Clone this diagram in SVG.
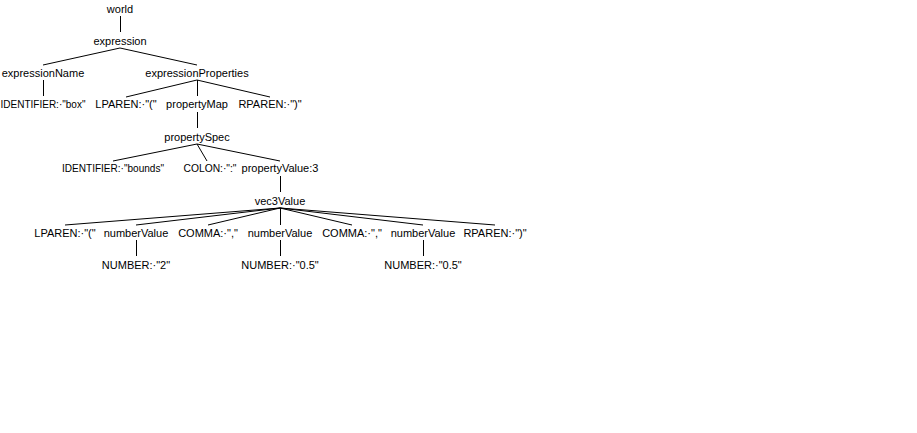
<svg xmlns="http://www.w3.org/2000/svg" width="917" height="433" viewBox="0 0 917 433">
<style>
text{font-family:"Liberation Sans",Arial,sans-serif;font-size:11px;fill:#000;text-anchor:middle}
line{stroke:#000;stroke-width:1}
</style>
<rect width="917" height="433" fill="#fff"/>
<g id="connectors">
<line x1="120.5" y1="16" x2="120.5" y2="32"/>
<line x1="120" y1="48" x2="43" y2="65"/>
<line x1="120" y1="48" x2="197" y2="65"/>
<line x1="43.5" y1="80" x2="43.5" y2="96"/>
<line x1="197" y1="80" x2="126" y2="97"/>
<line x1="197.5" y1="80" x2="197.5" y2="96"/>
<line x1="197" y1="80" x2="270" y2="97"/>
<line x1="197.5" y1="112" x2="197.5" y2="128"/>
<line x1="197" y1="144" x2="113" y2="161"/>
<line x1="197" y1="144" x2="207" y2="161"/>
<line x1="197" y1="144" x2="280" y2="161"/>
<line x1="280.5" y1="176" x2="280.5" y2="192"/>
<line x1="280" y1="208" x2="65" y2="225"/>
<line x1="280" y1="208" x2="136" y2="225"/>
<line x1="280" y1="208" x2="208" y2="225"/>
<line x1="280.5" y1="208" x2="280.5" y2="225"/>
<line x1="280" y1="208" x2="352" y2="225"/>
<line x1="280" y1="208" x2="423" y2="225"/>
<line x1="280" y1="208" x2="495" y2="225"/>
<line x1="136.5" y1="240" x2="136.5" y2="256"/>
<line x1="280.5" y1="240" x2="280.5" y2="256"/>
<line x1="423.5" y1="240" x2="423.5" y2="256"/>
</g>
<g id="n-world"><text x="120" y="13">world</text></g>
<g id="n-expression"><text x="120" y="45">expression</text></g>
<g id="n-expressionName"><text x="43" y="77">expressionName</text></g>
<g id="n-expressionProperties"><text x="197" y="77">expressionProperties</text></g>
<g id="n-identifier-box"><text x="43" y="108" textLength="85" lengthAdjust="spacingAndGlyphs">IDENTIFIER:·"box"</text></g>
<g id="n-lparen1"><text x="126" y="108">LPAREN:·"("</text></g>
<g id="n-propertyMap"><text x="197" y="108">propertyMap</text></g>
<g id="n-rparen1"><text x="270" y="108">RPAREN:·")"</text></g>
<g id="n-propertySpec"><text x="197" y="141">propertySpec</text></g>
<g id="n-identifier-bounds"><text x="113" y="172" textLength="102" lengthAdjust="spacingAndGlyphs">IDENTIFIER:·"bounds"</text></g>
<g id="n-colon"><text x="210" y="172" textLength="53" lengthAdjust="spacingAndGlyphs">COLON:·":"</text></g>
<g id="n-propertyValue"><text x="280" y="172">propertyValue:3</text></g>
<g id="n-vec3Value"><text x="280" y="205">vec3Value</text></g>
<g id="n-lparen2"><text x="65" y="237">LPAREN:·"("</text></g>
<g id="n-numberValue1"><text x="136" y="237">numberValue</text></g>
<g id="n-comma1"><text x="208" y="237">COMMA:·","</text></g>
<g id="n-numberValue2"><text x="280" y="237">numberValue</text></g>
<g id="n-comma2"><text x="352" y="237">COMMA:·","</text></g>
<g id="n-numberValue3"><text x="423" y="237">numberValue</text></g>
<g id="n-rparen2"><text x="495" y="237">RPAREN:·")"</text></g>
<g id="n-number1"><text x="136" y="269">NUMBER:·"2"</text></g>
<g id="n-number2"><text x="280" y="269">NUMBER:·"0.5"</text></g>
<g id="n-number3"><text x="423" y="269">NUMBER:·"0.5"</text></g>
</svg>
